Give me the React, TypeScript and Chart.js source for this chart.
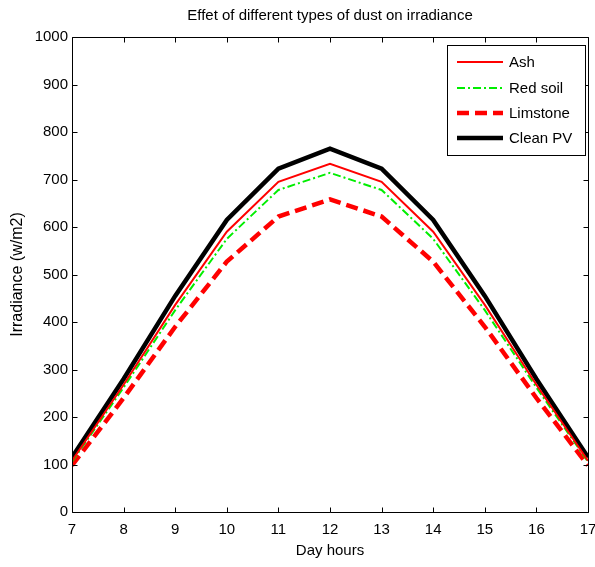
import React, { useEffect, useRef } from "react";
import { Chart, registerables } from "chart.js";

Chart.register(...registerables);

const hours = [7, 8, 9, 10, 11, 12, 13, 14, 15, 16, 17];
const ash = [108, 268, 436, 590, 695, 733, 695, 590, 436, 268, 108];
const redSoil = [106, 262, 425, 575, 678, 714, 678, 575, 425, 262, 106];
const limstone = [98, 240, 390, 527, 622, 658, 622, 527, 390, 240, 98];
const cleanPV = [115, 280, 455, 615, 723, 765, 723, 615, 455, 280, 115];
const yTickValues = [0, 100, 200, 300, 400, 500, 600, 700, 800, 900, 1000];

const chartTitle = "Effet of different types of dust on irradiance";
const xTitle = "Day hours";
const yTitle = "Irradiance (w/m2)";
const FONT = '"Liberation Sans", Arial, sans-serif';

const seriesDefs = [
  { label: "Ash", data: ash, color: "#ff0000", width: 2, dash: [] as number[] },
  { label: "Red soil", data: redSoil, color: "#00ee00", width: 2, dash: [8, 3, 2, 3] },
  { label: "Limstone", data: limstone, color: "#ff0000", width: 4.5, dash: [12, 6] },
  { label: "Clean PV", data: cleanPV, color: "#000000", width: 4.5, dash: [] as number[] },
];

const framePlugin = {
  id: "frameAndLegend",
  afterDraw(chart: any) {
    const { ctx, chartArea: a, scales } = chart;
    const x = scales.x;
    const y = scales.y;
    ctx.save();
    ctx.strokeStyle = "#000";
    ctx.lineWidth = 1;
    ctx.setLineDash([]);
    const L = Math.round(a.left) + 0.5;
    const R = Math.round(a.right) + 0.5;
    const T = Math.round(a.top) + 0.5;
    const B = Math.round(a.bottom) + 0.5;
    ctx.beginPath();
    ctx.rect(L, T, R - L, B - T);
    ctx.stroke();
    const tl = 5;
    ctx.beginPath();
    hours.forEach((h) => {
      const px = Math.round(x.getPixelForValue(h)) + 0.5;
      ctx.moveTo(px, B);
      ctx.lineTo(px, B - tl);
      ctx.moveTo(px, T);
      ctx.lineTo(px, T + tl);
    });
    yTickValues.forEach((v) => {
      const py = Math.round(y.getPixelForValue(v)) + 0.5;
      ctx.moveTo(L, py);
      ctx.lineTo(L + tl, py);
      ctx.moveTo(R, py);
      ctx.lineTo(R - tl, py);
    });
    ctx.stroke();

    // title
    ctx.fillStyle = "#000";
    ctx.font = `15px ${FONT}`;
    ctx.textAlign = "center";
    ctx.textBaseline = "middle";
    ctx.fillText(chartTitle, (a.left + a.right) / 2, 16);

    // legend
    const bx = 447.5, by = 45.5, bw = 138, bh = 110;
    ctx.fillStyle = "#fff";
    ctx.fillRect(bx, by, bw, bh);
    ctx.strokeStyle = "#000";
    ctx.lineWidth = 1;
    ctx.strokeRect(bx, by, bw, bh);
    const rows = [62, 88, 113, 138];
    seriesDefs.forEach((s, i) => {
      const ry = rows[i];
      ctx.save();
      ctx.strokeStyle = s.color;
      ctx.lineWidth = s.width;
      ctx.setLineDash(s.dash);
      ctx.beginPath();
      ctx.moveTo(457, ry);
      ctx.lineTo(503, ry);
      ctx.stroke();
      ctx.restore();
      ctx.fillStyle = "#000";
      ctx.font = `15px ${FONT}`;
      ctx.textAlign = "left";
      ctx.textBaseline = "middle";
      ctx.fillText(s.label, 509, ry + 1);
    });
    ctx.restore();
  },
};

export default function App() {
  const ref = useRef<HTMLCanvasElement | null>(null);
  useEffect(() => {
    if (!ref.current) return;
    const chart = new Chart(ref.current, {
      type: "line",
      data: {
        labels: hours,
        datasets: seriesDefs.map((s) => ({
          label: s.label,
          data: hours.map((h, i) => ({ x: h, y: s.data[i] })),
          borderColor: s.color,
          backgroundColor: s.color,
          borderWidth: s.width,
          borderDash: s.dash,
          pointRadius: 0,
          tension: 0,
          fill: false,
        })),
      },
      options: {
        animation: false,
        responsive: false,
        layout: { padding: { top: 37, right: 7, bottom: 0, left: 0 } },
        plugins: { legend: { display: false }, title: { display: false }, tooltip: { enabled: false } },
        scales: {
          x: {
            type: "linear",
            min: 7,
            max: 17,
            afterFit: (s: any) => { s.height = 55; s.paddingRight = 0; s.paddingLeft = 0; },
            afterBuildTicks: (s: any) => { s.ticks = hours.map((v) => ({ value: v })); },
            grid: { display: false, drawTicks: false },
            border: { display: false },
            ticks: { color: "#000", font: { family: FONT, size: 15 }, padding: 9, maxRotation: 0, callback: (v: any) => String(v) },
            title: { display: true, text: xTitle, color: "#000", font: { family: FONT, size: 15 }, padding: { top: 0, bottom: 7 } },
          },
          y: {
            type: "linear",
            min: 0,
            max: 1000,
            afterFit: (s: any) => { s.width = 72; s.paddingTop = 0; s.paddingBottom = 0; },
            afterBuildTicks: (s: any) => { s.ticks = yTickValues.map((v) => ({ value: v })); },
            grid: { display: false, drawTicks: false },
            border: { display: false },
            ticks: { color: "#000", font: { family: FONT, size: 15 }, padding: 4, callback: (v: any) => String(v) },
            title: { display: true, text: yTitle, color: "#000", font: { family: FONT, size: 16 }, padding: { top: 8, bottom: 0 } },
          },
        },
      },
      plugins: [framePlugin],
    });
    return () => chart.destroy();
  }, []);
  return (
    <div style={{ position: "fixed", left: 0, top: 0, width: 595, height: 567, background: "#fff" }}>
      <canvas ref={ref} width={595} height={567} />
    </div>
  );
}
